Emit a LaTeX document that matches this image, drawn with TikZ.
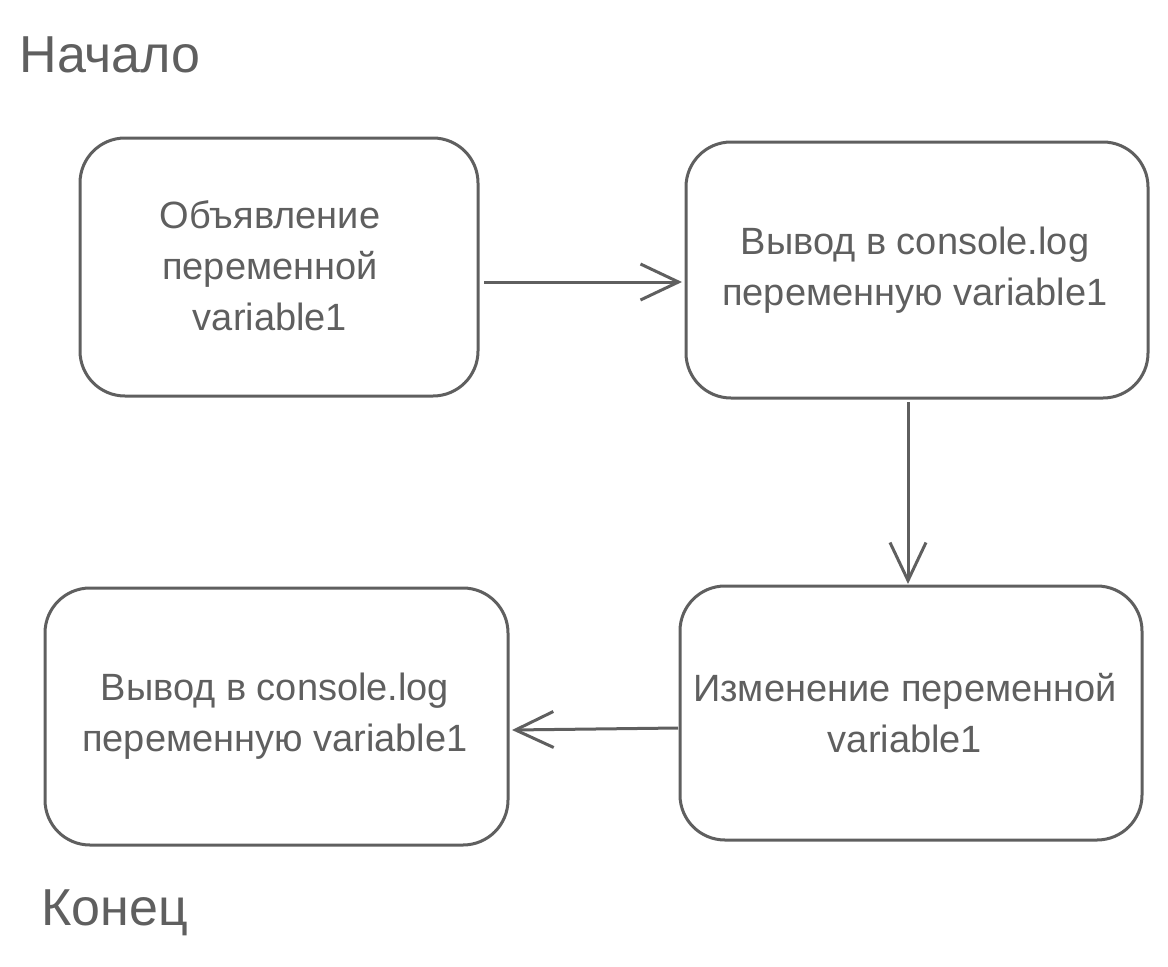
\documentclass[tikz,border=0pt]{standalone}
\usepackage{fontspec}
\setmainfont{Liberation Sans}
\usetikzlibrary{arrows.meta}
\definecolor{ink}{HTML}{5F5F5F}
\tikzset{
  box/.style={draw=ink, line width=3pt, rounded corners=45pt},
  lbl/.style={text=ink, font=\fontsize{38}{51}\selectfont, align=center},
  title/.style={text=ink, font=\fontsize{52}{52}\selectfont, anchor=west},
  conn/.style={draw=ink, line width=3pt, -{Straight Barb[length=38pt,width=36pt,line width=3pt]}}
}
\begin{document}
\begin{tikzpicture}[x=1pt,y=-1pt]
\useasboundingbox (0,0) rectangle (1168,967);
\node[title] (start) at (16,55) {Начало};
\node[title] (end) at (38,913) {Конец};
\draw[box] (80,138) rectangle (478,396);
\draw[box] (686,142) rectangle (1148,398);
\draw[box] (680,586) rectangle (1142,840);
\draw[box] (45,588) rectangle (508,845);
\node[lbl] (t1) at (270,266) {Объявление\\переменной\\variable1};
\node[lbl] (t2) at (915,270) {Вывод в console.log\\переменную variable1};
\node[lbl] (t3) at (905,713) {Изменение переменной\\variable1};
\node[lbl] (t4) at (275,716) {Вывод в console.log\\переменную variable1};
\coordinate (a1) at (484,282);
\coordinate (b1) at (682,282);
\coordinate (a2) at (908,402);
\coordinate (b2) at (908,584);
\coordinate (a3) at (678,728);
\coordinate (b3) at (512,730);
\draw[conn] (a1) -- (b1);
\draw[conn] (a2) -- (b2);
\draw[conn] (a3) -- (b3);
\end{tikzpicture}
\end{document}
